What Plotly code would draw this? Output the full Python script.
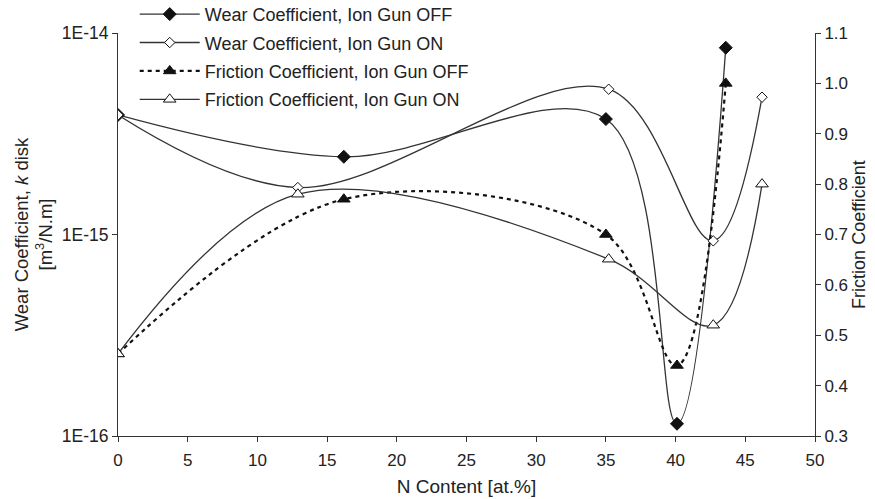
import plotly.graph_objects as go

# N content [at.%] for each measurement series
n_wear_off = [0, 16.2, 35.0, 40.1, 43.6]
n_wear_on = [0, 12.9, 35.2, 42.7, 46.2]
n_fric_off = [0, 16.2, 35.0, 40.1, 43.6]
n_fric_on = [0, 12.9, 35.2, 42.7, 46.2]

# Wear coefficient k (disk) [m^3/N.m]
wear_off = [3.92e-15, 2.43e-15, 3.74e-15, 1.15e-16, 8.45e-15]
wear_on = [3.92e-15, 1.71e-15, 5.26e-15, 9.3e-16, 4.80e-15]

# Friction coefficient
fric_off = [0.463, 0.770, 0.700, 0.440, 1.000]
fric_on = [0.463, 0.780, 0.651, 0.520, 0.800]

names = [
    "Wear Coefficient, Ion Gun OFF",
    "Wear Coefficient, Ion Gun ON",
    "Friction Coefficient, Ion Gun OFF",
    "Friction Coefficient, Ion Gun ON",
]

x_ticks = list(range(0, 51, 5))
left_tickvals = [1e-16, 1e-15, 1e-14]
left_ticktext = ["1E-16", "1E-15", "1E-14"]

FONT = "Liberation Sans, Arial, sans-serif"
INK = "#222222"
LINE = "#333333"

fig = go.Figure()

fig.add_trace(go.Scatter(
    x=n_wear_off, y=wear_off, name=names[0], legendgroup="g1",
    mode="lines+markers", line=dict(color=LINE, width=1.3, shape="spline", smoothing=1.0),
    marker=dict(symbol="diamond", size=10, color="#111111", line=dict(color="#111111", width=1)),
))
fig.add_trace(go.Scatter(
    x=n_wear_on, y=wear_on, name=names[1], legendgroup="g2",
    mode="lines+markers", line=dict(color=LINE, width=1.3, shape="spline", smoothing=1.0),
    marker=dict(symbol="diamond", size=8, color="white", line=dict(color="#111111", width=1)),
))
fig.add_trace(go.Scatter(
    x=n_fric_off, y=fric_off, name=names[2], legendgroup="g3", yaxis="y2",
    mode="lines+markers", line=dict(color="#111111", width=2.2, dash="4px,4px", shape="spline", smoothing=1.0),
    marker=dict(symbol="triangle-up", size=11, color="#111111", line=dict(color="#111111", width=1)),
))
fig.add_trace(go.Scatter(
    x=n_fric_on, y=fric_on, name=names[3], legendgroup="g4", yaxis="y2",
    mode="lines+markers", line=dict(color=LINE, width=1.3, shape="spline", smoothing=1.0),
    marker=dict(symbol="triangle-up", size=11, color="white", line=dict(color="#111111", width=1)),
))

fig.update_layout(
    width=875, height=499,
    margin=dict(l=118, r=60, t=33, b=63, autoexpand=False),
    paper_bgcolor="white", plot_bgcolor="white",
    font=dict(family=FONT, size=17, color=INK),
    showlegend=True,
    legend=dict(
        x=0.024, y=1.092, xanchor="left", yanchor="top",
        bgcolor="rgba(0,0,0,0)", font=dict(family=FONT, size=18, color=INK),
        itemwidth=60, traceorder="grouped", tracegroupgap=2,
    ),
    xaxis=dict(
        range=[0, 50], tickvals=x_ticks, ticks="outside", ticklen=5, tickcolor="#333",
        showline=True, linecolor="#333", linewidth=1, showgrid=False, zeroline=False,
        title=dict(text="N Content [at.%]", font=dict(size=19), standoff=10),
        tickfont=dict(size=17), ticklabelstandoff=4,
    ),
    yaxis=dict(
        type="log", range=[-16, -14], tickvals=left_tickvals, ticktext=left_ticktext,
        ticks="outside", ticklen=5, tickcolor="#333",
        showline=True, linecolor="#333", linewidth=1, showgrid=False, zeroline=False,
        title=dict(text="Wear Coefficient, <i>k</i> disk<br>[m<sup>3</sup>/N.m]", font=dict(size=18.5), standoff=4),
        tickfont=dict(size=17.5),
    ),
    yaxis2=dict(
        overlaying="y", side="right", range=[0.3, 1.1], dtick=0.1, tick0=0.3, tickformat=".1f",
        ticks="outside", ticklen=5, tickcolor="#333",
        showline=True, linecolor="#333", linewidth=1, showgrid=False, zeroline=False,
        title=dict(text="Friction Coefficient", font=dict(size=18), standoff=5),
        tickfont=dict(size=17),
    ),
)

fig.write_html("out.html")
